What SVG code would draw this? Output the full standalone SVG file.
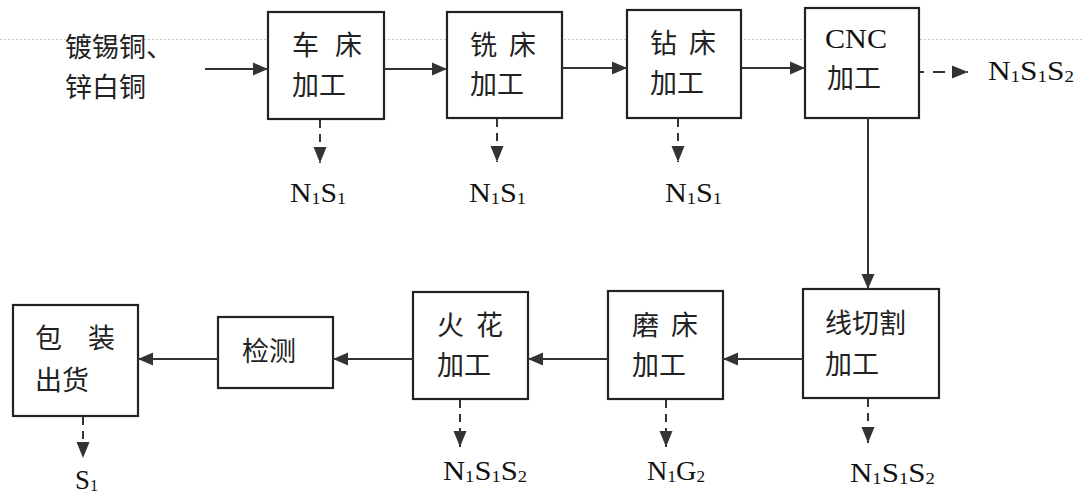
<svg xmlns="http://www.w3.org/2000/svg" width="1084" height="504" viewBox="0 0 1084 504">
<defs>
<style>
.box{fill:#fff;stroke:#222;stroke-width:2.2}
.cn{font-family:"Noto Sans CJK SC","Noto Sans CJK JP",sans-serif;font-size:27px;fill:#222}
.lat{font-family:"Liberation Serif","Times New Roman",serif;font-size:28px;fill:#111}
.sub{font-size:17px}
.flow{fill:none;stroke:#333;stroke-width:2}
.dash{fill:none;stroke:#333;stroke-width:2;stroke-dasharray:8 6}
</style>
<marker id="ah" markerUnits="userSpaceOnUse" markerWidth="16" markerHeight="14" refX="15" refY="7" orient="auto">
<path d="M0,0.5 L15,7 L0,13.5 Z" fill="#333"/>
</marker>
<marker id="ahd" markerUnits="userSpaceOnUse" markerWidth="17" markerHeight="14" refX="16" refY="7" orient="auto">
<path d="M0,0.5 L16,7 L0,13.5 Z" fill="#333"/>
</marker>
</defs>
<rect width="1084" height="504" fill="#fff"/>
<line x1="0" y1="39.5" x2="1084" y2="39.5" stroke="#c8c8c8" stroke-width="1" stroke-dasharray="2 2"/>

<g id="input">
<text class="cn" x="65" y="57">镀锡铜、</text>
<text class="cn" x="65" y="97">锌白铜</text>
</g>

<g id="n-chechuang">
<rect class="box" x="268" y="12" width="116" height="107"/>
<text class="cn" x="292" y="55" word-spacing="10">车 床</text>
<text class="cn" x="292" y="95">加工</text>
</g>
<g id="n-xichuang">
<rect class="box" x="447" y="12" width="115" height="106"/>
<text class="cn" x="470" y="55" word-spacing="6">铣 床</text>
<text class="cn" x="470" y="94">加工</text>
</g>
<g id="n-zuanchuang">
<rect class="box" x="627" y="10" width="114" height="108"/>
<text class="cn" x="650" y="53" word-spacing="6">钻 床</text>
<text class="cn" x="650" y="93">加工</text>
</g>
<g id="n-cnc">
<rect class="box" x="805" y="8" width="114" height="110"/>
<text class="lat" x="825" y="48" font-size="27" textLength="62" lengthAdjust="spacingAndGlyphs">CNC</text>
<text class="cn" x="827" y="88">加工</text>
</g>
<g id="n-xianqiege">
<rect class="box" x="803" y="289" width="136" height="109"/>
<text class="cn" x="825" y="333">线切割</text>
<text class="cn" x="825" y="374">加工</text>
</g>
<g id="n-mochuang">
<rect class="box" x="608" y="291" width="115" height="108"/>
<text class="cn" x="632" y="335" word-spacing="6">磨 床</text>
<text class="cn" x="632" y="375">加工</text>
</g>
<g id="n-huohua">
<rect class="box" x="413" y="292" width="115" height="107"/>
<text class="cn" x="437" y="335" word-spacing="6">火 花</text>
<text class="cn" x="437" y="375">加工</text>
</g>
<g id="n-jiance">
<rect class="box" x="218" y="317" width="115" height="71"/>
<text class="cn" x="242" y="361">检测</text>
</g>
<g id="n-baozhuang">
<rect class="box" x="13" y="305" width="125" height="111"/>
<text class="cn" x="35" y="348" word-spacing="20">包 装</text>
<text class="cn" x="35" y="390">出货</text>
</g>

<g id="connectors">
<line class="flow" x1="205" y1="69" x2="268" y2="69" marker-end="url(#ah)"/>
<line class="flow" x1="384" y1="69" x2="447" y2="69" marker-end="url(#ah)"/>
<line class="flow" x1="562" y1="68" x2="627" y2="68" marker-end="url(#ah)"/>
<line class="flow" x1="741" y1="68" x2="805" y2="68" marker-end="url(#ah)"/>
<line class="flow" x1="868" y1="118" x2="868" y2="289" marker-end="url(#ah)"/>
<line class="flow" x1="803" y1="359" x2="723" y2="359" marker-end="url(#ah)"/>
<line class="flow" x1="608" y1="359" x2="528" y2="359" marker-end="url(#ah)"/>
<line class="flow" x1="413" y1="359" x2="333" y2="359" marker-end="url(#ah)"/>
<line class="flow" x1="218" y1="359" x2="138" y2="359" marker-end="url(#ah)"/>

<line class="dash" x1="320" y1="120" x2="320" y2="163" marker-end="url(#ahd)"/>
<line class="dash" x1="497" y1="119" x2="497" y2="162" marker-end="url(#ahd)"/>
<line class="dash" x1="678" y1="119" x2="678" y2="162" marker-end="url(#ahd)"/>
<line class="dash" x1="920" y1="72" x2="968" y2="72" marker-end="url(#ahd)" style="stroke-dasharray:4 9 12 9"/>
<line class="dash" x1="868" y1="399" x2="868" y2="443" marker-end="url(#ahd)"/>
<line class="dash" x1="666" y1="400" x2="666" y2="447" marker-end="url(#ahd)"/>
<line class="dash" x1="460" y1="400" x2="460" y2="447" marker-end="url(#ahd)"/>
<line class="dash" x1="83" y1="417" x2="83" y2="458" marker-end="url(#ahd)"/>
</g>

<g id="labels">
<text class="lat" x="290" y="202" textLength="56" lengthAdjust="spacingAndGlyphs">N<tspan class="sub" dy="2">1</tspan><tspan dy="-2">S</tspan><tspan class="sub" dy="2">1</tspan></text>
<text class="lat" x="469" y="202" textLength="57" lengthAdjust="spacingAndGlyphs">N<tspan class="sub" dy="2">1</tspan><tspan dy="-2">S</tspan><tspan class="sub" dy="2">1</tspan></text>
<text class="lat" x="665" y="202" textLength="57" lengthAdjust="spacingAndGlyphs">N<tspan class="sub" dy="2">1</tspan><tspan dy="-2">S</tspan><tspan class="sub" dy="2">1</tspan></text>
<text class="lat" x="988" y="80" textLength="86" lengthAdjust="spacingAndGlyphs">N<tspan class="sub" dy="2">1</tspan><tspan dy="-2">S</tspan><tspan class="sub" dy="2">1</tspan><tspan dy="-2">S</tspan><tspan class="sub" dy="2">2</tspan></text>
<text class="lat" x="850" y="482" textLength="85" lengthAdjust="spacingAndGlyphs">N<tspan class="sub" dy="2">1</tspan><tspan dy="-2">S</tspan><tspan class="sub" dy="2">1</tspan><tspan dy="-2">S</tspan><tspan class="sub" dy="2">2</tspan></text>
<text class="lat" x="647" y="480" textLength="58" lengthAdjust="spacingAndGlyphs">N<tspan class="sub" dy="2">1</tspan><tspan dy="-2">G</tspan><tspan class="sub" dy="2">2</tspan></text>
<text class="lat" x="443" y="480" textLength="84" lengthAdjust="spacingAndGlyphs">N<tspan class="sub" dy="2">1</tspan><tspan dy="-2">S</tspan><tspan class="sub" dy="2">1</tspan><tspan dy="-2">S</tspan><tspan class="sub" dy="2">2</tspan></text>
<text class="lat" x="75" y="489" textLength="23" lengthAdjust="spacingAndGlyphs">S<tspan class="sub" dy="2">1</tspan></text>
</g>
</svg>
